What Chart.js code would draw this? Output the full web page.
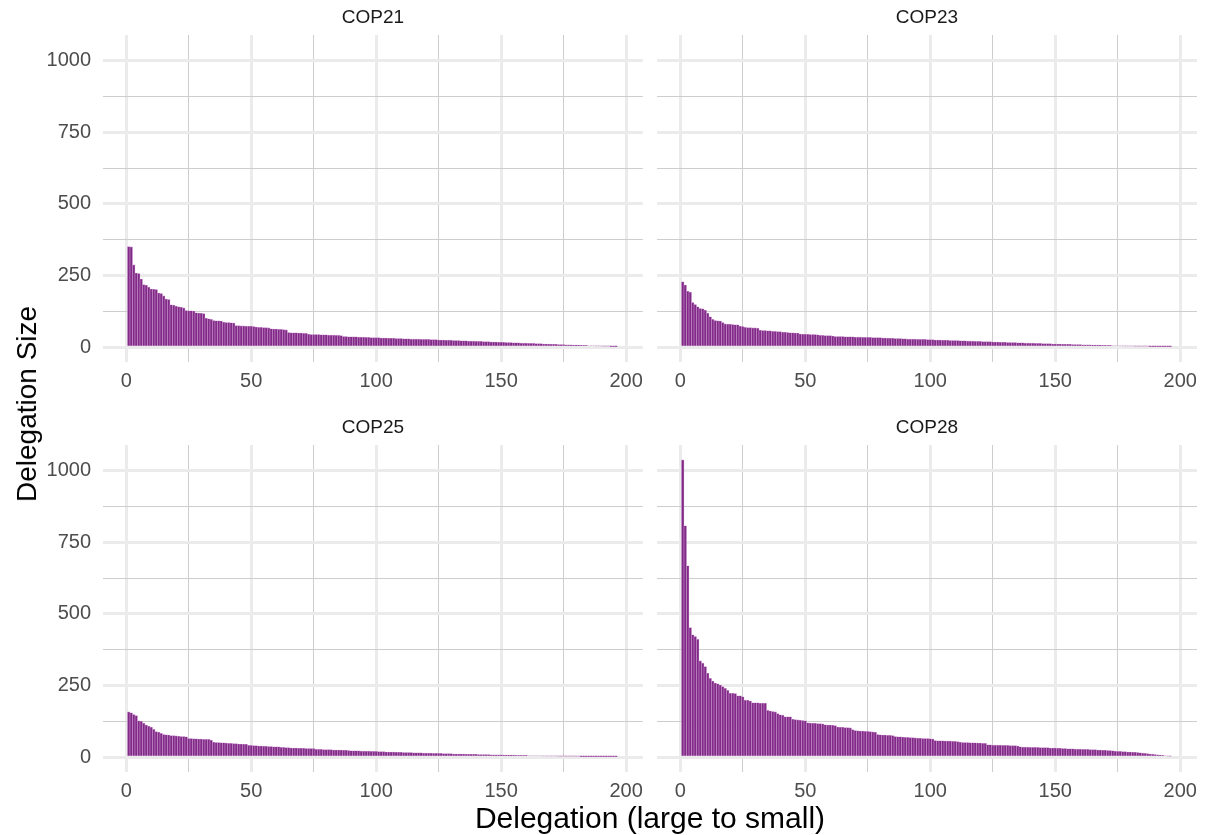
<!DOCTYPE html>
<html>
<head>
<meta charset="utf-8">
<title>Delegation size by COP</title>
<script src="https://cdn.jsdelivr.net/npm/chart.js@4.4.1/dist/chart.umd.min.js"></script>
<style>
  html, body { margin: 0; padding: 0; background: #fff; }
  body { position: relative; width: 1207px; height: 835px; overflow: hidden;
         font-family: 'Liberation Sans', Arial, sans-serif; }
  canvas { position: absolute; }
  .ytitle { position: absolute; left: 27px; top: 404px; color: #000; font-size: 28px;
            white-space: nowrap; transform: translate(-50%, -50%) rotate(-90deg); }
  .xtitle { position: absolute; left: 650px; top: 818px; color: #000; font-size: 30px;
            white-space: nowrap; transform: translate(-50%, -50%); }
</style>
</head>
<body>
<canvas id="c21" width="650" height="400" style="left:0;top:0"></canvas>
<canvas id="c23" width="557" height="400" style="left:650px;top:0"></canvas>
<canvas id="c25" width="650" height="400" style="left:0;top:410px"></canvas>
<canvas id="c28" width="557" height="400" style="left:650px;top:410px"></canvas>
<div class="ytitle">Delegation Size</div>
<div class="xtitle">Delegation (large to small)</div>

<script>
// delegation sizes, largest to smallest
const cop21 = [
  351, 350, 287, 259, 257, 238, 218, 216, 209, 203,
  202, 201, 189, 187, 179, 168, 166, 148, 146, 143,
  141, 139, 137, 128, 127, 127, 126, 120, 119, 118,
  117, 101, 99, 97, 93, 92, 92, 91, 87, 86,
  86, 85, 84, 75, 75, 74, 74, 73, 73, 73,
  72, 70, 69, 69, 68, 68, 67, 64, 63, 63,
  62, 62, 61, 60, 51, 50, 50, 50, 49, 49,
  48, 48, 45, 44, 44, 44, 44, 43, 43, 43,
  42, 42, 42, 41, 41, 40, 37, 37, 36, 36,
  36, 36, 35, 35, 35, 34, 34, 33, 33, 33,
  33, 32, 32, 32, 31, 31, 31, 30, 30, 30,
  29, 29, 29, 28, 28, 28, 28, 27, 27, 27,
  27, 26, 26, 26, 25, 25, 25, 24, 24, 24,
  23, 23, 23, 22, 22, 22, 21, 21, 21, 20,
  20, 20, 19, 19, 19, 18, 18, 18, 17, 17,
  17, 16, 16, 16, 15, 15, 15, 14, 14, 14,
  13, 13, 13, 12, 12, 12, 11, 11, 11, 10,
  10, 10, 9, 9, 9, 8, 8, 8, 7, 7,
  7, 6, 6, 6, 5, 5, 5, 4, 4, 4,
  3, 3, 3, 2, 2, 2
];
const cop23 = [
  228, 217, 195, 192, 156, 149, 141, 135, 134, 129,
  118, 106, 97, 93, 92, 91, 86, 81, 80, 80,
  79, 78, 78, 73, 72, 69, 68, 68, 67, 67,
  66, 59, 58, 58, 57, 57, 55, 55, 54, 54,
  52, 52, 51, 50, 50, 49, 49, 46, 45, 45,
  45, 44, 44, 44, 43, 41, 41, 40, 40, 40,
  39, 37, 37, 37, 37, 36, 36, 36, 36, 35,
  35, 35, 34, 34, 34, 34, 33, 33, 33, 33,
  32, 32, 31, 31, 31, 30, 30, 30, 29, 29,
  28, 28, 28, 28, 27, 27, 27, 27, 26, 26,
  26, 25, 25, 25, 24, 24, 24, 23, 23, 23,
  23, 22, 22, 22, 21, 21, 21, 20, 20, 20,
  19, 19, 19, 19, 18, 18, 18, 17, 17, 17,
  16, 16, 16, 16, 15, 15, 15, 14, 14, 14,
  14, 13, 13, 13, 12, 12, 12, 12, 11, 11,
  11, 11, 10, 10, 10, 10, 9, 9, 9, 9,
  8, 8, 8, 8, 7, 7, 7, 7, 6, 6,
  6, 6, 5, 5, 5, 5, 4, 4, 4, 4,
  4, 3, 3, 3, 3, 3, 3, 2, 2, 2,
  2, 2, 2, 2, 2, 2
];
const cop25 = [
  158, 155, 149, 145, 127, 125, 118, 112, 108, 104,
  97, 89, 87, 83, 79, 78, 77, 75, 75, 74,
  73, 72, 72, 71, 65, 65, 64, 64, 63, 63,
  62, 62, 62, 59, 52, 51, 51, 50, 50, 49,
  48, 48, 47, 47, 46, 46, 45, 45, 41, 41,
  40, 40, 39, 39, 38, 38, 37, 37, 36, 36,
  36, 34, 34, 33, 33, 32, 32, 32, 31, 31,
  31, 30, 30, 30, 30, 27, 27, 27, 26, 26,
  26, 26, 25, 25, 25, 25, 24, 24, 23, 22,
  22, 22, 22, 21, 21, 21, 21, 20, 20, 20,
  19, 19, 19, 18, 18, 18, 18, 17, 17, 17,
  16, 16, 16, 16, 15, 15, 15, 15, 14, 14,
  14, 14, 13, 13, 13, 13, 12, 12, 12, 12,
  11, 11, 11, 11, 11, 10, 10, 10, 10, 10,
  9, 9, 9, 9, 9, 8, 8, 8, 8, 8,
  7, 7, 7, 7, 7, 6, 6, 6, 6, 6,
  5, 5, 5, 5, 5, 5, 4, 4, 4, 4,
  4, 4, 3, 3, 3, 3, 3, 3, 3, 3,
  3, 2, 2, 2, 2, 2, 2, 2, 2, 2,
  2, 2, 2, 2, 2, 2
];
const cop28 = [
  1038, 808, 668, 452, 427, 421, 411, 336, 328, 316,
  293, 275, 266, 259, 256, 252, 246, 240, 233, 223,
  223, 222, 214, 214, 211, 199, 199, 196, 190, 190,
  190, 188, 188, 188, 163, 161, 159, 158, 152, 148,
  146, 141, 141, 141, 132, 131, 130, 129, 128, 127,
  120, 119, 118, 118, 117, 117, 116, 113, 112, 112,
  111, 110, 105, 104, 104, 103, 103, 102, 96, 93,
  92, 91, 91, 90, 90, 89, 88, 87, 79, 78,
  77, 77, 76, 76, 75, 72, 71, 71, 70, 69,
  69, 68, 68, 67, 66, 66, 65, 65, 65, 64,
  63, 58, 57, 57, 57, 56, 56, 56, 55, 55,
  54, 52, 51, 51, 51, 50, 50, 50, 49, 49,
  48, 48, 43, 43, 42, 42, 42, 42, 41, 41,
  41, 40, 40, 40, 39, 36, 35, 35, 35, 34,
  34, 34, 34, 33, 33, 33, 33, 32, 32, 32,
  31, 31, 30, 30, 29, 29, 29, 28, 28, 28,
  27, 27, 27, 26, 26, 26, 25, 25, 24, 24,
  23, 23, 22, 21, 20, 20, 19, 19, 18, 18,
  17, 17, 16, 15, 14, 13, 12, 11, 10, 9,
  8, 7, 6, 5, 4, 3
];

const xMajor = [0, 50, 100, 150, 200];
const xMinor = [25, 75, 125, 175];
const yMajor = [0, 250, 500, 750, 1000];
const yMinor = [125, 375, 625, 875];

const BAR_FILL = "rgb(130, 42, 136)";
const BAR_EDGE = "rgb(198, 142, 202)";
const GRID_MAJOR = "#EBEBEB";
const GRID_MINOR = "#CDCDCD";

Chart.defaults.font.family = "'Liberation Sans', Arial, sans-serif";

function isMajor(c, major) {
  return !!(c.tick && major.includes(c.tick.value));
}

function gridStyle(major) {
  return {
    offset: false,
    drawTicks: false,
    color: (c) => (isMajor(c, major) ? GRID_MAJOR : GRID_MINOR),
    lineWidth: (c) => (isMajor(c, major) ? 3 : 1),
  };
}

function tickList(major, minor) {
  return [...major, ...minor].sort((a, b) => a - b).map((v) => ({ value: v }));
}

function facet(id, label, values, showY) {
  const points = values.map((v, i) => ({ x: i + 1, y: v }));
  return new Chart(document.getElementById(id), {
    type: "bar",
    data: {
      datasets: [
        {
          data: points,
          backgroundColor: BAR_FILL,
          borderColor: BAR_EDGE,
          borderWidth: 0.6,
          barPercentage: 1,
          categoryPercentage: 1,
        },
      ],
    },
    options: {
      responsive: false,
      animation: false,
      events: [],
      layout: { padding: { left: 0, right: showY ? 7 : 10, top: 0, bottom: 0 } },
      plugins: { legend: { display: false }, tooltip: { enabled: false } },
      scales: {
        x: {
          type: "linear",
          min: -9.3,
          max: 206.7,
          offset: false,
          afterBuildTicks: (s) => { s.ticks = tickList(xMajor, xMinor); },
          afterFit: (s) => { s.height = 38; },
          grid: gridStyle(xMajor),
          border: { display: false },
          ticks: {
            autoSkip: false,
            maxRotation: 0,
            padding: 7,
            color: "#4D4D4D",
            font: { size: 20 },
            callback: (v) => (xMajor.includes(v) ? String(v) : ""),
          },
        },
        strip: {
          axis: "x",
          type: "linear",
          position: "top",
          min: -9.3,
          max: 206.7,
          afterFit: (s) => { s.height = 35; },
          grid: { display: false },
          border: { display: false },
          ticks: { display: false },
          title: {
            display: true,
            text: label,
            color: "#1A1A1A",
            font: { size: 19 },
            padding: { top: 6, bottom: 0 },
          },
        },
        y: {
          type: "linear",
          min: -51.9,
          max: 1089.9,
          afterBuildTicks: (s) => { s.ticks = tickList(yMajor, yMinor); },
          afterFit: (s) => { s.width = showY ? 103 : 7; },
          grid: gridStyle(yMajor),
          border: { display: false },
          ticks: {
            display: showY,
            padding: 12,
            color: "#4D4D4D",
            font: { size: 20 },
            callback: (v) => (yMajor.includes(v) ? String(v) : ""),
          },
        },
      },
    },
  });
}

facet("c21", "COP21", cop21, true);
facet("c23", "COP23", cop23, false);
facet("c25", "COP25", cop25, true);
facet("c28", "COP28", cop28, false);
</script>
</body>
</html>
